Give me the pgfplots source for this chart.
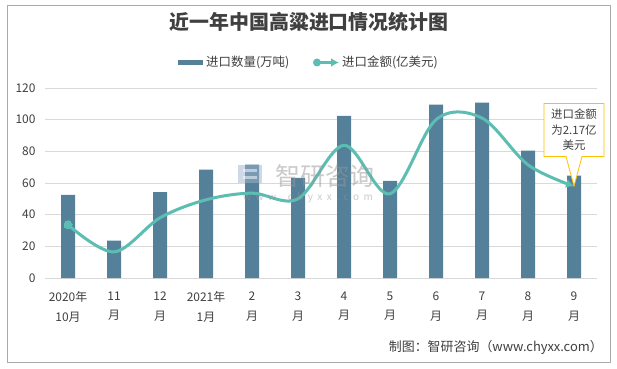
\documentclass[border=0pt]{standalone}
\usepackage{pgfplots}
\pgfplotsset{compat=1.18}
\usepackage{fontspec}
\setmainfont{Noto Sans CJK SC}
\usetikzlibrary{shapes.callouts, arrows.meta}
\definecolor{barc}{RGB}{84,128,154}
\definecolor{linec}{RGB}{92,189,178}
\definecolor{gridc}{RGB}{217,217,217}
\definecolor{callc}{RGB}{255,192,0}
\definecolor{txt}{RGB}{64,64,64}
\definecolor{wm}{RGB}{150,150,150}
\begin{document}
\begin{tikzpicture}
\path[use as bounding box] (0,0) rectangle (617bp,369bp);
\fill[white] (0,0) rectangle (617bp,369bp);
\draw[color={rgb,255:red,170;green,170;blue,170}, line width=0.8bp] (7bp,7bp) rectangle (610bp,364bp);
% title
\node[font=\fontsize{20}{24}\selectfont\bfseries, text=txt] at (309bp,347bp) {近一年中国高粱进口情况统计图};
% legend
\fill[barc] (178bp,304bp) rectangle (203bp,309bp);
\node[anchor=west, font=\fontsize{12.5}{14}\selectfont, text=txt, inner sep=0pt] at (206bp,306.5bp) {进口数量(万吨)};
\draw[linec, line width=3bp, -{Latex[length=8bp,width=9bp]}] (314bp,306.5bp) -- (339bp,306.5bp);
\fill[linec] (317bp,306.5bp) circle (4bp);
\node[anchor=west, font=\fontsize{12.5}{14}\selectfont, text=txt, inner sep=0pt] at (342bp,306.5bp) {进口金额(亿美元)};
\begin{axis}[
  at={(45bp,91bp)}, anchor=south west,
  width=552bp, height=190bp, scale only axis,
  xmin=-0.5, xmax=11.5, ymin=0, ymax=120,
  ytick={0,20,40,60,80,100,120},
  xtick={0,1,2,3,4,5,6,7,8,9,10,11},
  xticklabels={{2020年\\10月},{11\\月},{12\\月},{2021年\\1月},{2\\月},{3\\月},{4\\月},{5\\月},{6\\月},{7\\月},{8\\月},{9\\月}},
  xticklabel style={font=\fontsize{12}{20}\selectfont, align=center, text=txt, yshift=-10bp},
  yticklabel style={font=\fontsize{12}{14}\selectfont, text=txt, xshift=-6bp},
  /pgf/number format/assume math mode=true,
  major tick length=0pt,
  ymajorgrids, grid style={gridc, line width=0.8bp},
  axis lines*=left,
  y axis line style={draw=none},
  x axis line style={draw=gridc, line width=0.8bp},
  clip=false,
]
\addplot[ybar, bar width=14bp, fill=barc, draw=none] coordinates {
(0,52.5) (1,23.6) (2,54.3) (3,68.4) (4,71.6) (5,63.3) (6,102.4) (7,61.4) (8,109.5) (9,110.7) (10,80.4) (11,64.6)};
\addplot[smooth, tension=0.55, linec, line width=3bp, mark=*, mark indices={1}, mark size=4bp, mark options={fill=linec, draw=linec, line width=0pt}, -{Latex[length=8bp,width=9bp]}] coordinates {
(0,33.6) (1,16.5) (2,38) (3,49.4) (4,53.6) (5,50) (6,83.8) (7,53.2) (8,100) (9,101) (10,71.5) (11,58)};
\node[rectangle callout, draw=callc, line width=0.8bp, fill=white, align=center, text=txt,
  font=\fontsize{11.5}{15.5}\selectfont, minimum width=60bp, minimum height=53bp, inner sep=1bp,
  callout absolute pointer={(axis cs:11,58)}, callout pointer width=16bp] at (axis cs:11,93.5) {进口金额\\为2.17亿\\美元};
\end{axis}
% watermark
\begin{scope}[opacity=0.5]
\fill[color={rgb,255:red,160;green,180;blue,205}] (238bp,186bp) rectangle (262bp,204bp);
\fill[white] (243bp,190bp) rectangle (257bp,193bp);
\fill[white] (243bp,197bp) rectangle (257bp,200bp);
\node[font=\fontsize{25}{28}\selectfont, text=wm] at (325bp,193bp) {智研咨询};
\node[font=\fontsize{10}{12}\selectfont, text=wm] at (308bp,171.5bp) {w\ \ w\ \ w\ \ .\ \ c\ \ h\ \ y\ \ x\ \ x\ \ .\ \ c\ \ o\ \ m};
\end{scope}
% source
\node[anchor=east, font=\fontsize{13}{15}\selectfont, text=txt, inner sep=0pt] at (603bp,22bp) {制图：智研咨询（www.chyxx.com）};
\end{tikzpicture}
\end{document}
